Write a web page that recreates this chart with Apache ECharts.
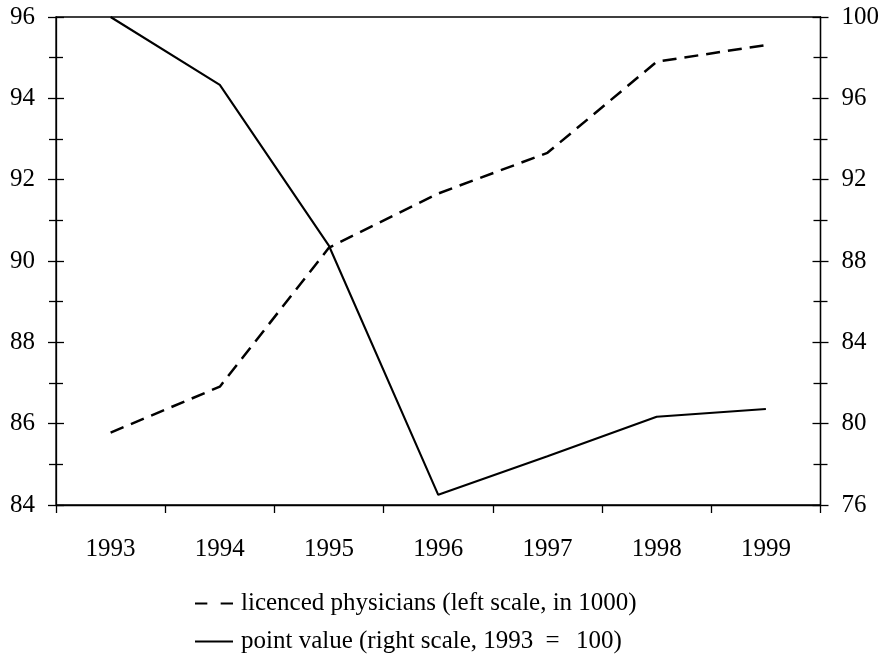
<!DOCTYPE html>
<html>
<head>
<meta charset="utf-8">
<script src="https://cdn.jsdelivr.net/npm/echarts@6/dist/echarts.min.js"></script>
<style>
html,body{margin:0;padding:0;background:#fff;}
#chart{width:882px;height:659px;}
</style>
</head>
<body>
<div id="chart"></div>
<script>
const years = ['1993', '1994', '1995', '1996', '1997', '1998', '1999'];
const physicians = [85.78, 86.91, 90.33, 91.66, 92.66, 94.90, 95.31];
const pointValue = [100, 96.66, 88.74, 76.50, 78.40, 80.34, 80.72];
const physiciansName = 'licenced physicians (left scale, in 1000)';
const pointValueName = 'point value (right scale, 1993 = 100)';

const FONT = '"Liberation Serif", "Times New Roman", serif';
const chart = echarts.init(document.getElementById('chart'), null, {renderer: 'canvas'});

function yAxisBase(pos, min, max, interval, showLabel, inside) {
  return {
    type: 'value', position: pos, min: min, max: max, interval: interval,
    axisLine: {show: !inside, lineStyle: {color: '#000', width: 1.3}},
    axisTick: {show: true, inside: inside, length: 8, lineStyle: {color: '#000', width: 1.3}},
    minorTick: {show: true, splitNumber: 2, length: 7, lineStyle: {color: '#000', width: 1.3}},
    splitLine: {show: false},
    axisLabel: {show: showLabel, color: '#000', fontFamily: FONT, fontSize: 25, margin: 21}
  };
}

const y0 = yAxisBase('left', 84, 96, 2, true, false);
const y1 = yAxisBase('right', 76, 100, 4, true, false);
const y2 = yAxisBase('left', 84, 96, 2, false, true);
const y3 = yAxisBase('right', 76, 100, 4, false, true);

function legendRow(name, icon, top, formatter) {
  const base = {color: '#000', fontFamily: FONT, fontSize: 25};
  return {
    orient: 'horizontal', left: 195, top: top, padding: 0,
    itemWidth: 38, itemHeight: 14, itemGap: 10,
    formatter: formatter,
    textStyle: Object.assign({}, base, {
      padding: [0, 0, 0, 3],
      rich: {
        t: base,
        eq: Object.assign({}, base, {padding: [0, 10, 0, 6]})
      }
    }),
    data: [{name: name, icon: icon, itemStyle: {color: '#000'}}]
  };
}

chart.setOption({
  animation: false,
  backgroundColor: '#fff',
  grid: {left: 56, right: 61, top: 17, bottom: 154, show: true, borderColor: '#000', borderWidth: 1.3, containLabel: false},
  xAxis: {
    type: 'category', data: years, boundaryGap: true,
    axisLine: {lineStyle: {color: '#000', width: 1.3}},
    axisTick: {show: true, length: 8, lineStyle: {color: '#000', width: 1.3}},
    axisLabel: {color: '#000', fontFamily: FONT, fontSize: 25, margin: 32},
    splitLine: {show: false}
  },
  yAxis: [y0, y1, y2, y3],
  legend: [
    legendRow(physiciansName, 'path://M0,0H12V2H0Z M25,0H37V2H25Z', 591, '{name}'),
    legendRow(pointValueName, 'path://M0,0H37V2H0Z', 629, function (name) {
      const i = name.indexOf('=');
      return '{t|' + name.slice(0, i) + '}{eq|=}{t|' + name.slice(i + 1) + '}';
    })
  ],
  series: [
    {
      name: physiciansName, type: 'line', yAxisIndex: 0, data: physicians,
      symbol: 'none', color: '#000',
      lineStyle: {color: '#000', width: 2.5, type: [14, 8]}
    },
    {
      name: pointValueName, type: 'line', yAxisIndex: 1, data: pointValue,
      symbol: 'none', color: '#000',
      lineStyle: {color: '#000', width: 2.1}
    }
  ]
});
</script>
</body>
</html>
